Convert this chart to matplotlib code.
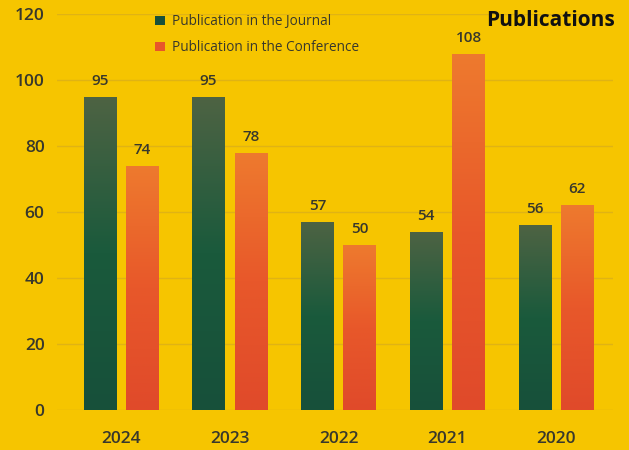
import matplotlib
matplotlib.use("Agg")
import matplotlib.pyplot as plt
import numpy as np
from matplotlib.colors import LinearSegmentedColormap
from matplotlib.patches import Patch

plt.rcParams['font.family'] = ['Open Sans', 'Roboto', 'DejaVu Sans']

years = ["2024", "2023", "2022", "2021", "2020"]
journal = [95, 95, 57, 54, 56]
conference = [74, 78, 50, 108, 62]
yticks = [0, 20, 40, 60, 80, 100, 120]

bg = "#F6C500"
txt = "#38382C"
fig = plt.figure(figsize=(6.29, 4.5), dpi=100, facecolor=bg)
ax = fig.add_axes([57/629, 1-410/450, (613-57)/629, (410-14)/450], facecolor=bg)

x = np.arange(len(years))
w = 0.30
off = 0.195

green_cmap = LinearSegmentedColormap.from_list("g", ["#17503A", "#1A5A3C", "#4E6343"])
orange_cmap = LinearSegmentedColormap.from_list("o", ["#E04A2A", "#E8582A", "#EE7A2E"])

grad = np.linspace(0, 1, 256).reshape(-1, 1)

def grad_bars(xs, vals, cmap):
    bars = ax.bar(xs, vals, width=w, color="none", edgecolor="none", zorder=3)
    for b in bars:
        x0, y0 = b.get_x(), b.get_y()
        bw, bh = b.get_width(), b.get_height()
        im = ax.imshow(grad, cmap=cmap, aspect="auto", origin="lower",
                       extent=[x0, x0 + bw, y0, y0 + bh], zorder=3)
        im.set_clip_path(b)
    return bars

bj = grad_bars(x - off, journal, green_cmap)
bc = grad_bars(x + off, conference, orange_cmap)

for xs, vals in ((x - off, journal), (x + off, conference)):
    for xi, v in zip(xs, vals):
        ax.text(xi, v + 2.7, str(v), ha="center", va="bottom", fontsize=11,
                color=txt, fontweight="semibold", zorder=4)

ax.set_xlim(-0.589, 4.524)
ax.set_ylim(0, 120)
ax.set_yticks(yticks)
ax.set_xticks(x)
ax.set_xticklabels(years, fontweight="semibold")
for lab in ax.get_yticklabels():
    lab.set_fontweight("semibold")
ax.yaxis.grid(True, color="#E0B314", linewidth=1.0, zorder=0)
ax.set_axisbelow(True)
for s in ax.spines.values():
    s.set_visible(False)
ax.tick_params(axis="y", length=0, labelsize=12.5, colors=txt, pad=9)
ax.tick_params(axis="x", length=0, labelsize=12.5, colors=txt, pad=15)

handles = [Patch(facecolor="#17503A", label="Publication in the Journal"),
           Patch(facecolor="#E8552A", label="Publication in the Conference")]
leg = ax.legend(handles=handles, loc="upper left", bbox_to_anchor=(0.155, 1.03),
                frameon=False, fontsize=9.8, handlelength=0.7, handleheight=0.7,
                handletextpad=0.5, labelspacing=0.8, labelcolor=txt)

fig.text(615/629, 1-21/450, "Publications", ha="right", va="center",
         fontsize=15, fontweight="bold", color="#111111")

fig.savefig("out.png", dpi=100, facecolor=bg)
